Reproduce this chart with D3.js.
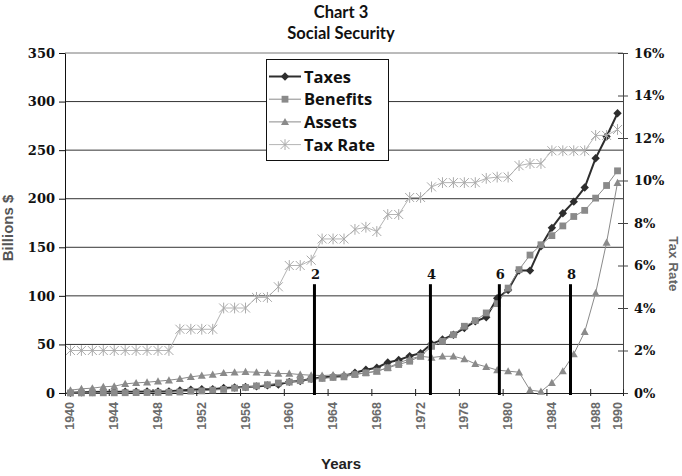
<!DOCTYPE html>
<html>
<head>
<meta charset="utf-8">
<script src="https://cdn.jsdelivr.net/npm/d3@7/dist/d3.min.js"></script>
<style>
  html, body { margin: 0; padding: 0; background: #fff; }
  svg { display: block; }
</style>
</head>
<body>
<svg id="chart" width="682" height="476"></svg>
<script>
// Social Security: taxes, benefits and trust-fund assets (billions of dollars)
// plus the combined payroll tax rate on the secondary axis, 1940-1990.
const years = d3.range(1940, 1991);

const taxes = [
  0.3, 0.8, 1.0, 1.2, 1.3, 1.3, 1.3, 1.5, 1.6, 1.7,
  2.7, 3.4, 3.8, 3.9, 5.2, 5.7, 6.2, 6.8, 7.8, 8.6,
  11.5, 12.3, 14.6, 16, 17, 17.6, 20.9, 24, 26, 31.5,
  34, 38, 41, 50.6, 55, 60, 66.8, 73.7, 78, 97.5,
  106, 126, 126, 151, 170, 185, 197, 211.5, 241.7, 264,
  288
];

const benefits = [
  0.04, 0.1, 0.1, 0.2, 0.2, 0.3, 0.4, 0.5, 0.6, 0.7,
  1.0, 1.9, 2.2, 3.0, 3.7, 5.0, 5.7, 7.3, 8.5, 10.3,
  11.2, 12.7, 14.2, 15, 16, 16.6, 19, 20.7, 22.4, 25.9,
  29.3, 32.7, 37.8, 48, 53.2, 60, 68.7, 74.5, 82.4, 92,
  108, 127, 142, 152.6, 162, 172, 181.7, 188, 200.6, 213.6,
  228.7
];

const assets = [
  2.9, 4.3, 5.0, 6.4, 7.0, 9.4, 10.4, 11.1, 12.1, 13.2,
  14.6, 16.6, 18, 19, 20.7, 21.4, 21.8, 21.4, 20.7, 20,
  20, 19, 18.3, 18, 18.5, 19, 19.5, 20.7, 22.4, 26,
  31, 35, 37.8, 36.5, 37.8, 37.8, 35, 30, 27, 23.6,
  22.5, 21.4, 3, 1.5, 10.6, 22.5, 40, 63, 103, 155,
  216.5
];

// combined employee + employer rate, percent
const taxRate = [
  2, 2, 2, 2, 2, 2, 2, 2, 2, 2,
  3, 3, 3, 3, 4, 4, 4, 4.5, 4.5, 5,
  6, 6, 6.25, 7.25, 7.25, 7.25, 7.7, 7.8, 7.6, 8.4,
  8.4, 9.2, 9.2, 9.7, 9.9, 9.9, 9.9, 9.9, 10.1, 10.16,
  10.16, 10.7, 10.8, 10.8, 11.4, 11.4, 11.4, 11.4, 12.12, 12.12,
  12.4
];

const leftTicks = [0, 50, 100, 150, 200, 250, 300, 350];
const rightTicks = [0, 2, 4, 6, 8, 10, 12, 14, 16];
const yearLabels = [1940, 1944, 1948, 1952, 1956, 1960, 1964, 1968, 1972, 1976, 1980, 1984, 1988, 1990];

// numbered markers drawn as vertical bars (position in years, height in billions)
const markerNames = ["2", "4", "6", "8"];
const markerYears = [1962.3, 1972.9, 1979.2, 1985.7];
const markerHeight = 112;

const svg = d3.select("#chart");
const plot = { left: 65, right: 623, top: 53, bottom: 393 };

// each year is a category centred in its own slot
const x = d3.scaleLinear().domain([1939.5, 1990.5]).range([plot.left, plot.right]);
const yL = d3.scaleLinear().domain([0, 350]).range([plot.bottom, plot.top]);
const yR = d3.scaleLinear().domain([0, 16]).range([plot.bottom, plot.top]);

const serif = "'DejaVu Serif', serif";
const sans = "'Liberation Sans', Arial, sans-serif";
const humanist = "'Open Sans', 'Noto Sans', sans-serif";
const titleFont = "Lato, 'Open Sans', sans-serif";

// title
svg.append("text").attr("x", 341).attr("y", 18).attr("text-anchor", "middle")
  .attr("font-family", titleFont).attr("font-weight", 700).attr("font-size", 16.5)
  .attr("fill", "#111").text("Chart 3");
svg.append("text").attr("x", 341).attr("y", 38.5).attr("text-anchor", "middle")
  .attr("font-family", titleFont).attr("font-weight", 700).attr("font-size", 16.5)
  .attr("fill", "#111").text("Social Security");

// horizontal gridlines
svg.append("g").selectAll("line").data(leftTicks.filter(d => d > 0)).join("line")
  .attr("x1", plot.left).attr("x2", plot.right)
  .attr("y1", d => yL(d)).attr("y2", d => yL(d))
  .attr("stroke", d => d === 350 ? "#777" : "#333").attr("stroke-width", 1);

// left axis
const gL = svg.append("g").attr("transform", `translate(${plot.left},0)`)
  .call(d3.axisLeft(yL).tickValues(leftTicks).tickSizeInner(6).tickSizeOuter(0).tickPadding(4));
gL.select(".domain").attr("stroke", "#111");
gL.selectAll(".tick line").attr("stroke", "#111");
gL.selectAll("text").attr("font-family", serif).attr("font-weight", 700)
  .attr("font-size", 13).attr("fill", "#111");

// right axis (tax rate), ticks cross the axis
const gR = svg.append("g").attr("transform", `translate(${plot.right},0)`)
  .call(d3.axisRight(yR).tickValues(rightTicks).tickSizeInner(5).tickSizeOuter(0)
    .tickPadding(6).tickFormat(d => d + "%"));
gR.select(".domain").attr("stroke", "#444");
gR.selectAll(".tick line").attr("x1", -5).attr("x2", 5).attr("stroke", "#444");
gR.selectAll("text").attr("font-family", serif).attr("font-weight", 700)
  .attr("font-size", 13).attr("fill", "#111");

// bottom axis: ticks every fourth category boundary
const tickBounds = d3.range(1939.5, 1990.5, 4);
const gB = svg.append("g").attr("transform", `translate(0,${plot.bottom})`)
  .call(d3.axisBottom(x).tickValues(tickBounds.concat([1990.5])).tickSizeInner(4)
    .tickSizeOuter(0).tickFormat(""));
gB.select(".domain").attr("stroke", "#222");
gB.selectAll(".tick line").attr("y1", -4).attr("y2", 3).attr("stroke", "#222");

// year labels, rotated
svg.append("g").selectAll("text").data(yearLabels).join("text")
  .attr("transform", d => `translate(${x(d) + 4},402) rotate(-90)`)
  .attr("text-anchor", "end")
  .attr("font-family", sans).attr("font-weight", 700).attr("font-size", 12.5)
  .attr("fill", "#6a6a6a").text(d => d);

// axis titles
svg.append("text").attr("transform", "translate(13,228) rotate(-90)")
  .attr("text-anchor", "middle").attr("font-family", sans).attr("font-weight", 700)
  .attr("font-size", 15).attr("fill", "#555").text("Billions $");
svg.append("text").attr("transform", "translate(669,264) rotate(90)")
  .attr("text-anchor", "middle").attr("font-family", sans).attr("font-weight", 700)
  .attr("font-size", 13.5).attr("fill", "#666").text("Tax Rate");
svg.append("text").attr("x", 341).attr("y", 469).attr("text-anchor", "middle")
  .attr("font-family", sans).attr("font-weight", 700).attr("font-size", 15)
  .attr("fill", "#222").text("Years");

// marker shapes
const shapes = {
  diamond: (g, c, s) => g.append("path").attr("d", `M0,${-s}L${s},0L0,${s}L${-s},0Z`).attr("fill", c),
  square: (g, c, s) => g.append("rect").attr("x", -s).attr("y", -s).attr("width", 2 * s).attr("height", 2 * s).attr("fill", c),
  triangle: (g, c, s) => g.append("path").attr("d", `M0,${-s}L${s},${s * 0.8}L${-s},${s * 0.8}Z`).attr("fill", c),
  star: (g, c, s) => g.append("path").attr("d", `M${-s},${-s}L${s},${s}M${s},${-s}L${-s},${s}M0,${-s * 1.2}L0,${s * 1.2}`)
    .attr("stroke", c).attr("stroke-width", 1).attr("fill", "none")
};

const series = [
  { name: "Taxes", values: taxes, y: yL, line: "#2e2e2e", width: 2, marker: "diamond", mColor: "#2e2e2e", size: 4.2 },
  { name: "Benefits", values: benefits, y: yL, line: "#8a8a8a", width: 1, marker: "square", mColor: "#8a8a8a", size: 3.4 },
  { name: "Assets", values: assets, y: yL, line: "#8a8a8a", width: 1, marker: "triangle", mColor: "#8a8a8a", size: 4 },
  { name: "Tax Rate", values: taxRate, y: yR, line: "#b4b4b4", width: 1, marker: "star", mColor: "#aaaaaa", size: 4.5 }
];

series.forEach(s => {
  const pts = years.map((yr, i) => [x(yr), s.y(s.values[i])]);
  svg.append("path").attr("d", d3.line()(pts)).attr("fill", "none")
    .attr("stroke", s.line).attr("stroke-width", s.width).attr("stroke-linejoin", "round");
  const gm = svg.append("g");
  pts.forEach(p => {
    const m = gm.append("g").attr("transform", `translate(${p[0]},${p[1]})`);
    shapes[s.marker](m, s.mColor, s.size);
  });
});

// numbered vertical bars
const gBars = svg.append("g");
markerYears.forEach((yr, i) => {
  gBars.append("line").attr("x1", x(yr)).attr("x2", x(yr))
    .attr("y1", yL(markerHeight)).attr("y2", plot.bottom + 2)
    .attr("stroke", "#000").attr("stroke-width", 3);
  gBars.append("text").attr("x", x(yr) + 1).attr("y", yL(markerHeight) - 5)
    .attr("text-anchor", "middle").attr("font-family", serif).attr("font-weight", 700)
    .attr("font-size", 13).attr("fill", "#111").text(markerNames[i]);
});

// legend
const lg = svg.append("g").attr("transform", "translate(266,59)");
lg.append("rect").attr("x", 0.5).attr("y", 0.5).attr("width", 122).attr("height", 101)
  .attr("fill", "#fff").attr("stroke", "#111").attr("stroke-width", 1);
series.forEach((s, i) => {
  const cy = 17.5 + i * 22.7;
  lg.append("line").attr("x1", 3).attr("x2", 35).attr("y1", cy).attr("y2", cy)
    .attr("stroke", s.line).attr("stroke-width", s.width);
  const m = lg.append("g").attr("transform", `translate(19,${cy})`);
  shapes[s.marker](m, s.mColor, s.size);
  lg.append("text").attr("x", 38).attr("y", cy + 6).attr("font-family", humanist)
    .attr("font-weight", 700).attr("font-size", 16.5).attr("fill", "#111").text(s.name);
});
</script>
</body>
</html>
